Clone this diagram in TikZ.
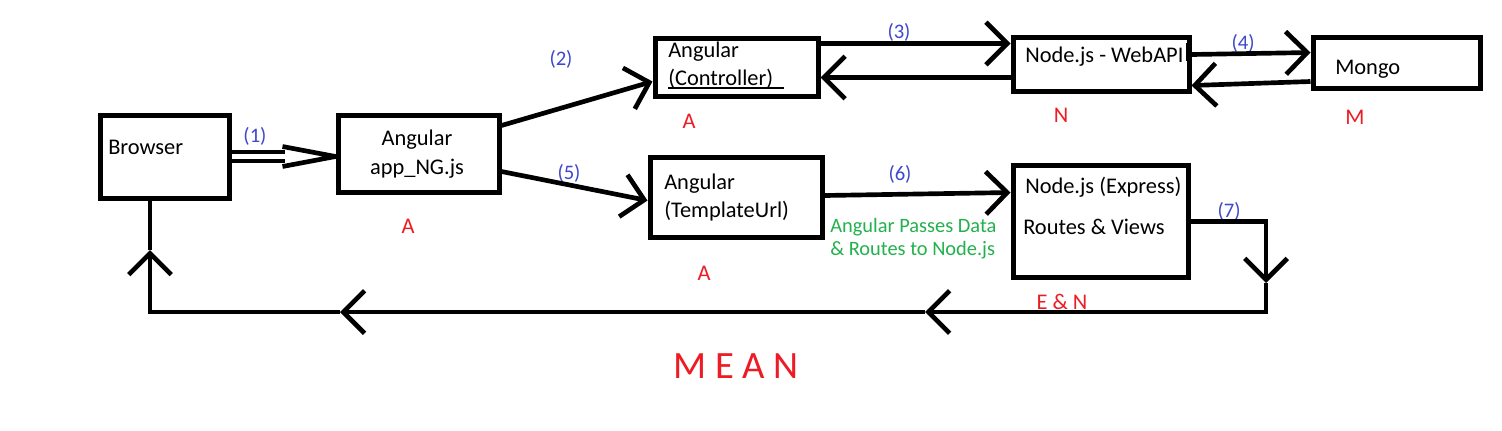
\documentclass[tikz,border=0pt]{standalone}
\usepackage{fontspec}
\setmainfont{Carlito}
\usetikzlibrary{arrows.meta,calc,fit}
\definecolor{pblue}{HTML}{3F48CC}
\definecolor{pred}{HTML}{ED1C24}
\definecolor{pgreen}{HTML}{22B14C}
\begin{document}
\begin{tikzpicture}[x=0.75pt,y=-0.75pt,
  panel/.style={draw,line width=3.75pt,inner sep=0pt},
  txt/.style={font=\fontsize{16.8}{20}\selectfont,inner sep=0pt,anchor=base west},
  num/.style={font=\fontsize{15.5}{18}\selectfont,text=pblue,inner sep=0pt,anchor=base},
  lett/.style={font=\fontsize{16.8}{20}\selectfont,text=pred,inner sep=0pt,anchor=base},
  note/.style={font=\fontsize{15.3}{18}\selectfont,text=pgreen,inner sep=0pt,anchor=base west},
  conn/.style={line width=3.5pt},
  arrowed/.style={-{Straight Barb[length=16pt,width=32pt]}}]
\useasboundingbox (0,0) rectangle (1502,430);
\fill[white] (0,0) rectangle (1502,430);

% boxes
\node[panel,fit={(100,115)(229,198)}] (browser) {};
\node[panel,fit={(338,115)(499,192)}] (app) {};
\node[panel,fit={(655,38)(818,96)}] (ctrl) {};
\node[panel,fit={(1013,37)(1189,91)}] (web) {};
\node[panel,fit={(1313,37)(1480,88)}] (mongo) {};
\node[panel,fit={(650,157)(822,237)}] (tmpl) {};
\node[panel,fit={(1013,165)(1188,277)}] (expr) {};

% box texts
\node[txt] (browsert) at (108,154) {Browser};
\node[txt,anchor=base] (appa) at (417,145) {Angular};
\node[txt,anchor=base] (appb) at (417,174) {app\_NG.js};
\node[txt] (ctrla) at (668,57) {Angular};
\node[txt] (ctrlb) at (668,85) {(Controller)};
\draw[line width=1.1pt] ($(ctrlb.base west)+(0,3)$) -- ($(ctrlb.base west)+(116,3)$);
\node[txt] (webt) at (1025,62) {Node.js - WebAPI};
\draw[line width=2.2pt] ($(web.north east)+(-4,8)$) -- ($(web.north east)+(-4,26)$);
\node[txt] (mongot) at (1335,74) {Mongo};
\node[txt] (tmpla) at (664,189) {Angular};
\node[txt] (tmplb) at (664,217) {(TemplateUrl)};
\node[txt] (expra) at (1025,193) {Node.js (Express)};
\node[txt] (exprb) at (1023,234) {Routes \& Views};
\node[note] (g1) at (830,232) {Angular Passes Data};
\node[note] (g2) at (830,255) {\& Routes to Node.js};

% numbers
\node[num] (n1) at (255,142) {(1)};
\node[num] (n2) at (561,65) {(2)};
\node[num] (n3) at (899,38) {(3)};
\node[num] (n4) at (1243,49) {(4)};
\node[num] (n5) at (569,179) {(5)};
\node[num] (n6) at (900,180) {(6)};
\node[num] (n7) at (1229,217) {(7)};

% red letters
\node[lett] (la1) at (408,233) {A};
\node[lett] (la2) at (689,128) {A};
\node[lett] (ln) at (1061,122) {N};
\node[lett] (lm) at (1355,124) {M};
\node[lett] (la3) at (704,280) {A};
\node[lett] (len) at (1062,309) {E \& N};
\node[font=\fontsize{29}{34}\selectfont,text=pred,inner sep=0pt,anchor=base] (mean) at (736,378) {M E A N};

% (1) double arrow
\coordinate (tip1) at (app.west |- browser.east);
\coordinate (h1) at ($(tip1)+(-51,0)$);
\draw[line width=3pt,double,double distance=3.2pt] (browser.east) -- (h1);
\draw[conn,line join=round] ($(tip1)+(-53,-10)$) -- (tip1) -- ($(tip1)+(-53,10)$);

% connectors
\draw[conn,arrowed] ($(app.north east)+(0,13)$) -- ($(ctrl.south west)+(0,-17)$);
\draw[conn,arrowed] ($(ctrl.north east)+(0,8)$) -- ($(web.north west)+(0,9)$);
\draw[conn,arrowed] ($(web.south west)+(0,-16)$) -- ($(ctrl.south east)+(0,-21)$);
\draw[conn,arrowed] ($(web.north east)+(0,20)$) -- ($(mongo.north west)+(0,18)$);
\draw[conn,arrowed] ($(mongo.south west)+(0,-9)$) -- ($(web.south east)+(0,-8)$);
\draw[conn,arrowed] ($(app.south east)+(0,-23)$) -- ($(tmpl.north west)+(0,46)$);
\draw[conn,arrowed] ($(tmpl.north east)+(0,41)$) -- ($(expr.north west)+(0,30)$);

% (7) return path
\coordinate (r1) at (1266,283);
\coordinate (r2) at (925,312);
\coordinate (r3) at (340,312);
\coordinate (r4) at (150,250);
\draw[conn,arrowed] ($(expr.north east)+(0,59)$) -| (r1);
\draw[conn,arrowed] (r1) |- (r2);
\draw[conn,arrowed] (r2) -- (r3);
\draw[conn,arrowed] (r3) -| (r4);
\draw[conn] (r4) -- (r4 |- browser.south);
\end{tikzpicture}
\end{document}
